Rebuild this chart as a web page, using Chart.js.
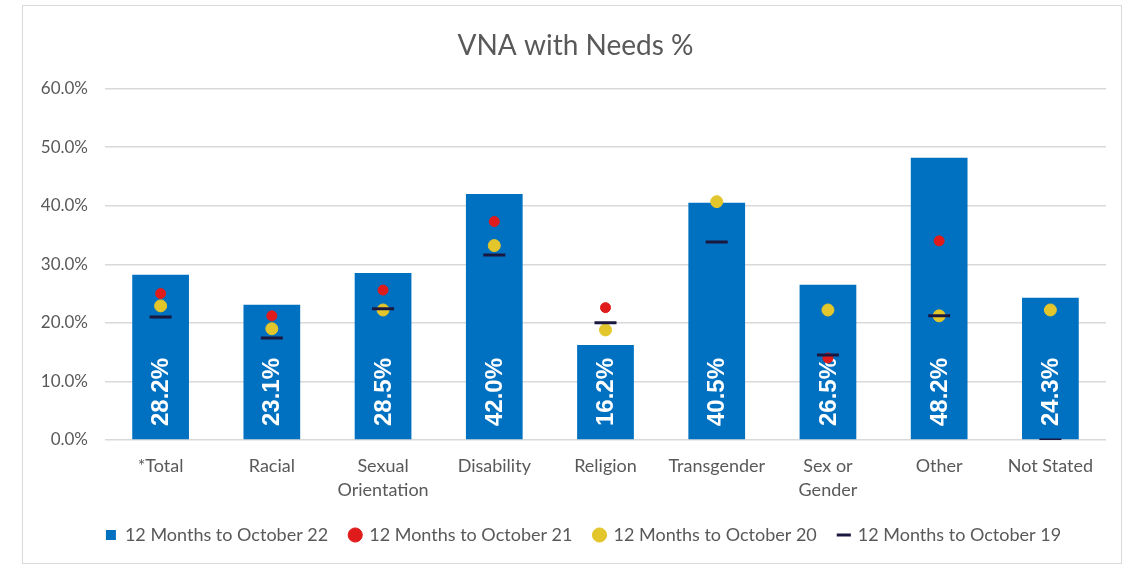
<!DOCTYPE html>
<html>
<head>
<meta charset="utf-8">
<title>VNA with Needs %</title>
<script src="https://cdn.jsdelivr.net/npm/chart.js@4"></script>
<style>
    body { margin: 0; background: #fff; }
    #box {
        position: absolute;
        left: 22px;
        top: 5px;
        width: 1098px;
        height: 557px;
        border: 1px solid #d9d9d9;
    }
    canvas { display: block; }
</style>
</head>
<body>
<div id="box"><canvas id="myChart" width="1098" height="557"></canvas></div>
<script>
"use strict";

const categories = ['*Total', 'Racial', ['Sexual', 'Orientation'], 'Disability', 'Religion', 'Transgender', ['Sex or', 'Gender'], 'Other', 'Not Stated'];
const oct22 = [28.2, 23.1, 28.5, 42.0, 16.2, 40.5, 26.5, 48.2, 24.3];
const oct21 = [25.0, 21.2, 25.6, 37.3, 22.6, null, 14.0, 34.0, null];
const oct20 = [22.9, 19.0, 22.2, 33.2, 18.8, 40.7, 22.2, 21.2, 22.2];
const oct19 = [21.0, 17.4, 22.4, 31.6, 20.0, 33.8, 14.5, 21.2, 0.0];
const yTicks = [0, 10, 20, 30, 40, 50, 60];

const grey = '#595959';

// white rotated value labels inside the bars
const barLabels = {
    id: 'barLabels',
    afterDatasetDraw(chart, args) {
        if (args.index !== 0) {
            return;
        }
        const ctx = chart.ctx;
        const yBase = chart.scales.y.getPixelForValue(0);
        ctx.save();
        ctx.fillStyle = '#ffffff';
        ctx.font = 'bold 24px "Liberation Sans", Arial, sans-serif';
        ctx.textAlign = 'left';
        ctx.textBaseline = 'middle';
        args.meta.data.forEach(function (bar, i) {
            ctx.save();
            ctx.translate(bar.x + 1, yBase - 14);
            ctx.rotate(-Math.PI / 2);
            ctx.fillText(oct22[i].toFixed(1) + '%', 0, 0);
            ctx.restore();
        });
        ctx.restore();
    }
};

// nudge legend and title a little to the right, like the original
const shiftBoxes = {
    id: 'shiftBoxes',
    afterLayout(chart) {
        chart.legend.left += 19;
        chart.legend.right += 19;
        chart.titleBlock.left += 11;
        chart.titleBlock.right += 11;
    }
};

const ctx = document.getElementById('myChart').getContext('2d');

new Chart(ctx, {
    type: 'bar',
    data: {
        labels: categories,
        datasets: [{
            label: '12 Months to October 22',
            data: oct22,
            backgroundColor: '#0070C0',
            borderWidth: 0,
            barPercentage: 0.51,
            categoryPercentage: 1,
            pointStyle: 'rect',
            order: 3
        }, {
            type: 'line',
            label: '12 Months to October 21',
            data: oct21,
            showLine: false,
            pointStyle: 'circle',
            pointRadius: 5,
            pointBackgroundColor: '#E01B1B',
            pointBorderColor: '#E01B1B',
            backgroundColor: '#E01B1B',
            borderColor: '#E01B1B',
            order: 2
        }, {
            type: 'line',
            label: '12 Months to October 20',
            data: oct20,
            showLine: false,
            pointStyle: 'circle',
            pointRadius: 6,
            pointBackgroundColor: '#E3C62B',
            pointBorderColor: '#E3C62B',
            backgroundColor: '#E3C62B',
            borderColor: '#E3C62B',
            order: 1
        }, {
            type: 'line',
            label: '12 Months to October 19',
            data: oct19,
            showLine: false,
            pointStyle: 'line',
            pointRadius: 11,
            pointBorderWidth: 3,
            borderWidth: 3,
            pointBorderColor: '#1B1840',
            borderColor: '#1B1840',
            backgroundColor: '#1B1840',
            order: 0
        }]
    },
    plugins: [barLabels, shiftBoxes],
    options: {
        responsive: false,
        animation: false,
        layout: {
            padding: { left: 0, right: 15, top: 0, bottom: 9 }
        },
        plugins: {
            title: {
                display: true,
                text: 'VNA with Needs %',
                color: grey,
                font: { family: 'Lato', size: 28, weight: 'normal' },
                padding: { top: 23, bottom: 26 }
            },
            legend: {
                position: 'bottom',
                labels: {
                    color: grey,
                    font: { family: 'Lato', size: 18 },
                    usePointStyle: true,
                    boxWidth: 10,
                    boxHeight: 10,
                    padding: 22,
                    sort: function (a, b) {
                        return a.datasetIndex - b.datasetIndex;
                    }
                }
            },
            tooltip: { enabled: false }
        },
        scales: {
            x: {
                grid: { display: false },
                border: { display: false },
                ticks: {
                    color: grey,
                    font: { family: 'Lato', size: 18, lineHeight: 1.33 },
                    padding: 6,
                    maxRotation: 0,
                    autoSkip: false
                },
                afterFit: function (scale) {
                    scale.height = 64;
                }
            },
            y: {
                min: 0,
                max: 60,
                afterBuildTicks: function (scale) {
                    scale.ticks = yTicks.map(function (v) {
                        return { value: v };
                    });
                },
                grid: { color: '#d9d9d9', lineWidth: 1.5, drawTicks: false },
                border: { display: false },
                ticks: {
                    color: grey,
                    font: { family: 'Lato', size: 17 },
                    padding: 17,
                    callback: function (v) {
                        return v.toFixed(1) + '%';
                    }
                },
                afterFit: function (scale) {
                    scale.width = 82;
                }
            }
        }
    }
});
</script>
</body>
</html>
